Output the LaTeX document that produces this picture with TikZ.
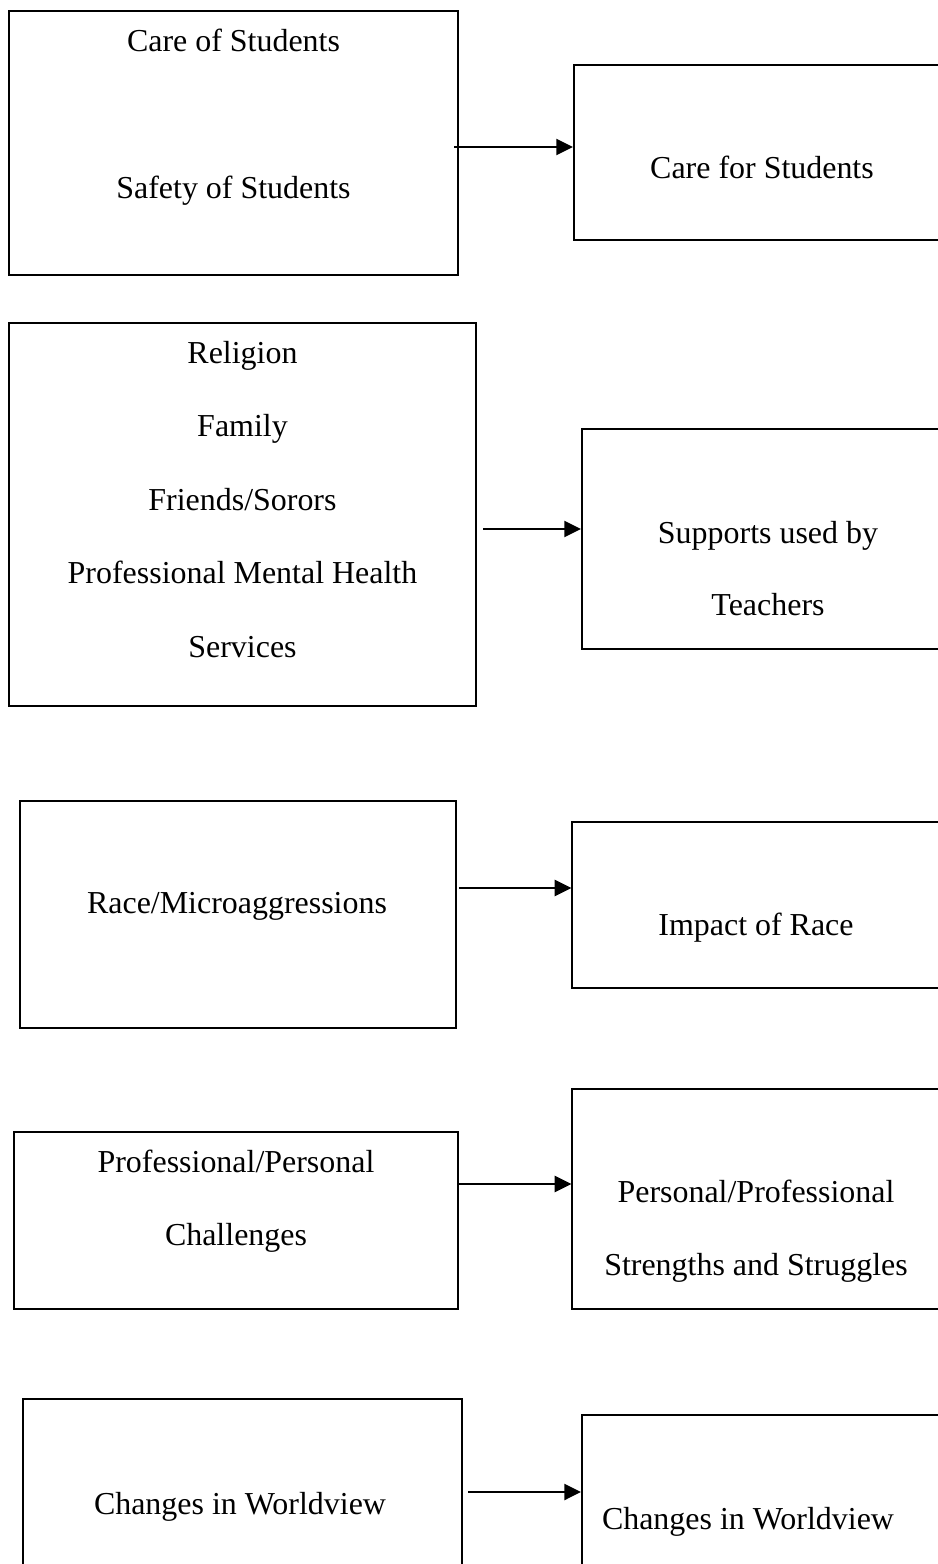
\documentclass[tikz,border=0pt]{standalone}
\usepackage{fontspec}
\setmainfont{Liberation Serif}
\usetikzlibrary{arrows.meta}

\newcommand{\pxu}{0.36pt}

\tikzset{
    box/.style={draw, line width=0.75pt, inner sep=0pt},
    lbl/.style={inner sep=0pt, anchor=base, font=\fontsize{11.5}{14}\selectfont},
    link/.style={line width=0.75pt, -{Triangle[length=6pt, width=5.8pt]}}
}

\begin{document}
\begin{tikzpicture}[x=\pxu, y=-\pxu]
    \useasboundingbox (0,0) rectangle (938,1564);
    \clip (0,0) rectangle (938,1564);

    % Row 1: care
    \node[box, minimum width=449*\pxu, minimum height=264*\pxu] (src1) at (233.5,143) {};
    \node[box, minimum width=386*\pxu, minimum height=175*\pxu] (res1) at (767,152.5) {};
    \node[lbl] (src1a) at (233.5,51) {Care of Students};
    \node[lbl] (src1b) at (233.5,198) {Safety of Students};
    \node[lbl] (res1a) at (762,178) {Care for Students};
    \draw[link] (src1.east |- 0,147) ++(-5,0) -- (res1.west |- 0,147);

    % Row 2: supports
    \node[box, minimum width=467*\pxu, minimum height=383*\pxu] (src2) at (242.5,514.5) {};
    \node[box, minimum width=378*\pxu, minimum height=220*\pxu] (res2) at (771,539) {};
    \foreach \t [count=\i] in {Religion, Family, Friends/Sorors, Professional Mental Health, Services}
        \node[lbl] (src2-\i) at (242.5,{363+73.5*(\i-1)}) {\t};
    \node[lbl] (res2a) at (768,543) {Supports used by};
    \node[lbl] (res2b) at (768,615) {Teachers};
    \draw[link] (src2.east |- 0,529) ++(6,0) -- (res2.west |- 0,529);

    % Row 3: race
    \node[box, minimum width=436.6*\pxu, minimum height=227*\pxu] (src3) at (238,914.2) {};
    \node[box, minimum width=387.6*\pxu, minimum height=166*\pxu] (res3) at (766.2,905) {};
    \node[lbl] (src3a) at (237,913) {Race/Microaggressions};
    \node[lbl] (res3a) at (756,935) {Impact of Race};
    \draw[link] (src3.east |- 0,888) ++(1.5,0) -- (res3.west |- 0,888);

    % Row 4: challenges
    \node[box, minimum width=443.1*\pxu, minimum height=177.3*\pxu] (src4) at (236,1220.4) {};
    \node[box, minimum width=387.6*\pxu, minimum height=220*\pxu] (res4) at (766.2,1199) {};
    \node[lbl] (src4a) at (236,1172) {Professional/Personal};
    \node[lbl] (src4b) at (236,1245) {Challenges};
    \node[lbl] (res4a) at (756,1202) {Personal/Professional};
    \node[lbl] (res4b) at (756,1275) {Strengths and Struggles};
    \draw[link] (src4.east |- 0,1184) -- (res4.west |- 0,1184);

    % Row 5: worldview
    \node[box, minimum width=439*\pxu, minimum height=201*\pxu] (src5) at (242.5,1499.5) {};
    \node[box, minimum width=378*\pxu, minimum height=185*\pxu] (res5) at (771,1507.5) {};
    \node[lbl] (src5a) at (240,1514) {Changes in Worldview};
    \node[lbl] (res5a) at (748,1529) {Changes in Worldview};
    \draw[link] (src5.east |- 0,1492) ++(5,0) -- (res5.west |- 0,1492);
\end{tikzpicture}
\end{document}
